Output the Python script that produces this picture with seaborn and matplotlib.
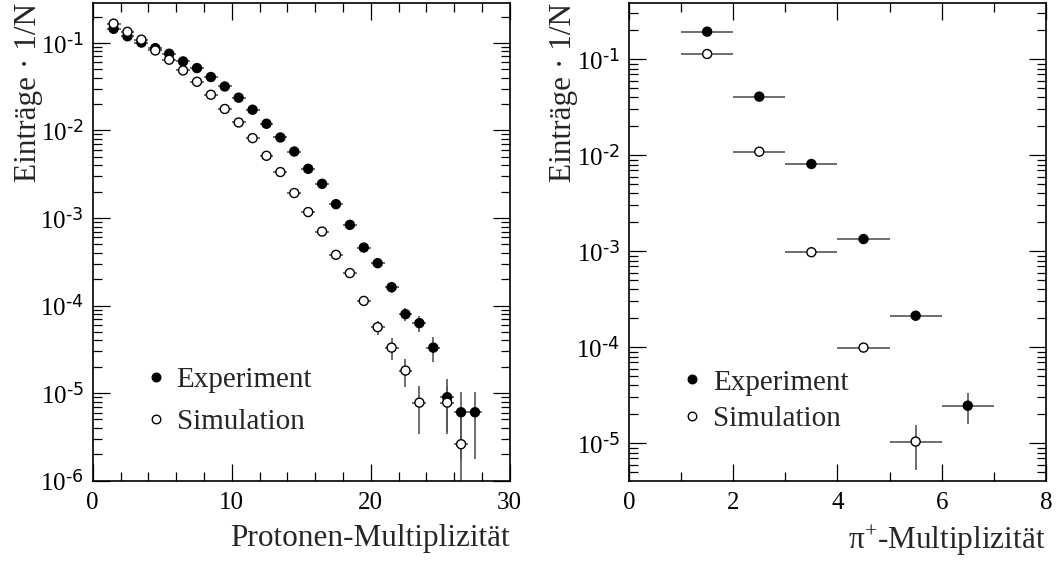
import numpy as np
import pandas as pd
import matplotlib
matplotlib.use("Agg")
import matplotlib.pyplot as plt
import matplotlib.ticker as mticker
import seaborn as sns

# ---------------- data ----------------
p_x = [1.5, 2.5, 3.5, 4.5, 5.5, 6.5, 7.5, 8.5, 9.5, 10.5, 11.5, 12.5, 13.5, 14.5,
       15.5, 16.5, 17.5, 18.5, 19.5, 20.5, 21.5, 22.5, 23.5, 24.5, 25.5, 26.5, 27.5]
p_exp = [0.145, 0.119, 0.101, 0.0873, 0.0753, 0.0615, 0.0516, 0.0408, 0.0318, 0.0237,
         0.01726, 0.01194, 0.00832, 0.00575, 0.00365, 0.00246, 0.00144, 0.000836,
         0.000460, 0.000305, 1.62e-4, 7.98e-5, 6.30e-5, 3.31e-5, 8.98e-6, 6.05e-6, 6.05e-6]
p_exp_err = [0.0007, 0.0006, 0.0006, 0.0005, 0.0005, 0.0004, 0.0004, 0.0004, 0.0003, 0.0003,
             0.0002, 0.0002, 0.00016, 0.00013, 0.0001, 0.00009, 0.00007, 0.00005,
             0.000037, 0.00003, 2.2e-5, 1.3e-5, 1.3e-5, 1.05e-5, 5.4e-6, 4.3e-6, 4.3e-6]

p_sim_x = [1.5, 2.5, 3.5, 4.5, 5.5, 6.5, 7.5, 8.5, 9.5, 10.5, 11.5, 12.5, 13.5, 14.5,
           15.5, 16.5, 17.5, 18.5, 19.5, 20.5, 21.5, 22.5, 23.5, 25.5, 26.5]
p_sim = [0.166, 0.134, 0.109, 0.082, 0.0643, 0.0485, 0.0360, 0.0256, 0.0176, 0.01234,
         0.00818, 0.00514, 0.00335, 0.00193, 0.00117, 0.000701, 0.000380, 0.000235,
         0.000113, 5.67e-5, 3.31e-5, 1.81e-5, 7.79e-6, 7.79e-6, 2.61e-6]
p_sim_err = [0.0008, 0.0007, 0.0006, 0.0005, 0.0004, 0.0004, 0.0003, 0.0003, 0.0002, 0.0002,
             0.00015, 0.00012, 0.0001, 0.00007, 0.00006, 0.00004, 0.00003, 0.000025,
             0.000015, 1.07e-5, 0.93e-5, 0.65e-5, 4.4e-6, 4.4e-6, 2.8e-6]

pi_x = [1.5, 2.5, 3.5, 4.5, 5.5, 6.5]
pi_exp = [0.194, 0.0408, 8.11e-3, 1.34e-3, 2.13e-4, 2.46e-5]
pi_exp_err = [0.001, 0.0004, 0.00015, 0.00005, 1.1e-5, 8.7e-6]
pi_sim_x = [1.5, 2.5, 3.5, 4.5, 5.5]
pi_sim = [0.1135, 0.0109, 9.77e-4, 9.91e-5, 1.04e-5]
pi_sim_err = [0.001, 0.00015, 0.00003, 8e-6, 5.1e-6]

bin_half = 0.5
labels = ["Experiment", "Simulation"]
ylabel = "Einträge · 1/N"
xlabel_left = "Protonen-Multiplizität"
xlabel_right = r"π$^{\mathregular{+}}$-Multiplizität"

# ---------------- style ----------------
sns.set_style("ticks")
plt.rcParams["font.family"] = ["Liberation Serif", "DejaVu Serif"]
plt.rcParams["mathtext.default"] = "regular"
plt.rcParams["axes.unicode_minus"] = False

fig = plt.figure(figsize=(10.56, 5.62), dpi=100)
axL = fig.add_axes([0.0878, 0.1447, 0.3949, 0.85])
axR = fig.add_axes([0.5956, 0.1447, 0.3949, 0.85])

ecol = "#555555"


def draw(ax, xe, ye, ee, xs, ys, es):
    ax.set_yscale("log")
    ax.errorbar(xe, ye, xerr=bin_half, yerr=ee, fmt="none", ecolor=ecol,
                elinewidth=1.2, capsize=0, zorder=2)
    ax.errorbar(xs, ys, xerr=bin_half, yerr=es, fmt="none", ecolor=ecol,
                elinewidth=1.2, capsize=0, zorder=2)
    df = pd.concat([
        pd.DataFrame({"x": xe, "y": ye, "serie": labels[0]}),
        pd.DataFrame({"x": xs, "y": ys, "serie": labels[1]}),
    ])
    sns.scatterplot(data=df, x="x", y="y", hue="serie",
                    palette={labels[0]: "black", labels[1]: "white"},
                    edgecolor="black", linewidth=1.0, s=42, ax=ax, zorder=3)


draw(axL, p_x, p_exp, p_exp_err, p_sim_x, p_sim, p_sim_err)
draw(axR, pi_x, pi_exp, pi_exp_err, pi_sim_x, pi_sim, pi_sim_err)

axL.set_xlim(0, 30)
axL.set_ylim(1e-6, 0.286)
axR.set_xlim(0, 8)
axR.set_ylim(4.07e-6, 0.386)


def decade(v, p):
    e = int(round(np.log10(v)))
    return r"$\mathregular{10^{\text{%s}}}$" % ("-%d" % (-e) if e < 0 else "%d" % e)


fmt = mticker.FuncFormatter(decade)
for ax, maj, mnr in [(axL, 10, 2), (axR, 2, 1)]:
    ax.xaxis.set_major_locator(mticker.MultipleLocator(maj))
    ax.xaxis.set_minor_locator(mticker.MultipleLocator(mnr))
    ax.yaxis.set_major_locator(mticker.LogLocator(base=10, numticks=20))
    ax.yaxis.set_minor_locator(mticker.LogLocator(base=10, subs=np.arange(2, 10), numticks=20))
    ax.yaxis.set_major_formatter(fmt)
    ax.yaxis.set_minor_formatter(mticker.NullFormatter())
    ax.tick_params(which="both", direction="in", top=True, right=True, width=0.9,
                   colors="black", labelsize=18)
    ax.tick_params(which="major", length=12.2)
    ax.tick_params(which="minor", length=6.3)
    ax.tick_params(axis="x", pad=8)
    ax.tick_params(axis="y", pad=6.5)
    for s in ax.spines.values():
        s.set_linewidth(1.2)
        s.set_color("black")
    ax.set_ylabel(ylabel, fontsize=22.5, loc="top")

axL.yaxis.set_label_coords(-0.119, 1.0)
axR.yaxis.set_label_coords(-0.122, 1.0)

axL.set_xlabel(xlabel_left, fontsize=22.5, loc="right")
axR.set_xlabel(xlabel_right, fontsize=22.5, loc="right")
axL.xaxis.set_label_coords(1.0, -0.09)
axR.xaxis.set_label_coords(1.0, -0.09)

common = dict(loc="center left", frameon=False, fontsize=21, borderpad=0,
              borderaxespad=0, handlelength=1.0, handletextpad=0.22,
              markerscale=0.95, title=None)
axL.legend(bbox_to_anchor=(0.116, 0.1668), labelspacing=0.52, **common)
axR.legend(bbox_to_anchor=(0.116, 0.1675), labelspacing=0.34, **common)

fig.savefig("out.png", dpi=100)
